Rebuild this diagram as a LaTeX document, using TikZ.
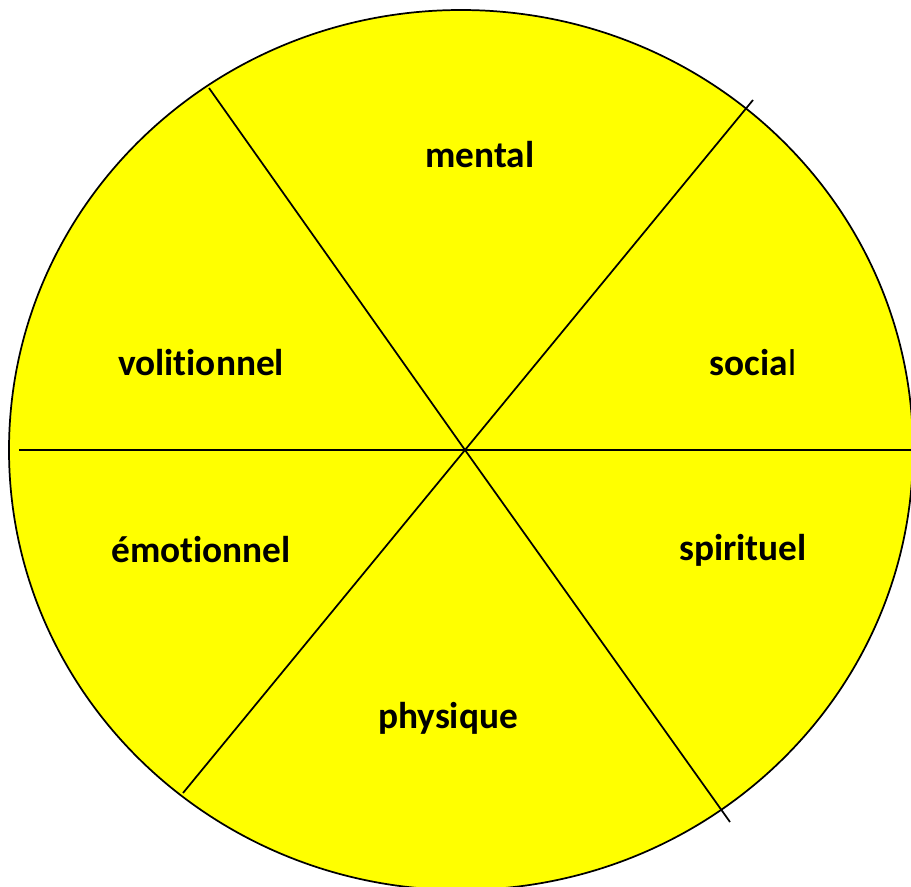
\documentclass[tikz,border=0pt]{standalone}
\usepackage{fontspec}
\setmainfont[Ligatures=NoCommon]{Carlito}
\definecolor{wheelyellow}{RGB}{255,255,0}
\begin{document}
\begin{tikzpicture}[x=0.75pt,y=-0.75pt,
  lbl/.style={font=\fontsize{28}{32}\selectfont\bfseries, text=black, inner sep=0pt},
  divider/.style={draw=black, line width=1.3pt}]
\useasboundingbox (0,0) rectangle (911,886);
\clip (0,0) rectangle (911,886);
\fill[wheelyellow] (461,450) ellipse [x radius=452, y radius=440];
\coordinate (c) at (465,450);
\coordinate (h1) at (19,450);
\coordinate (h2) at (915,450);
\coordinate (f1) at (209,88);
\coordinate (f2) at (730,822);
\coordinate (r1) at (753,100);
\coordinate (r2) at (183,793);
\draw[divider] (h1) -- (c) -- (h2);
\draw[divider] (f1) -- (c) -- (f2);
\draw[divider] (r1) -- (c) -- (r2);
\draw[black, line width=1.3pt] (461,450) ellipse [x radius=452, y radius=440];
\node[lbl] (mental) at (480,155) {mental};
\node[lbl] (volitionnel) at (201,363) {volitionnel};
\node[lbl] (social) at (753,363) {socia\mdseries l};
\node[lbl] (emotionnel) at (201,550) {émotionnel};
\node[lbl] (spirituel) at (743,550) {spirituel};
\node[lbl] (physique) at (448,718) {physique};
\end{tikzpicture}
\end{document}
